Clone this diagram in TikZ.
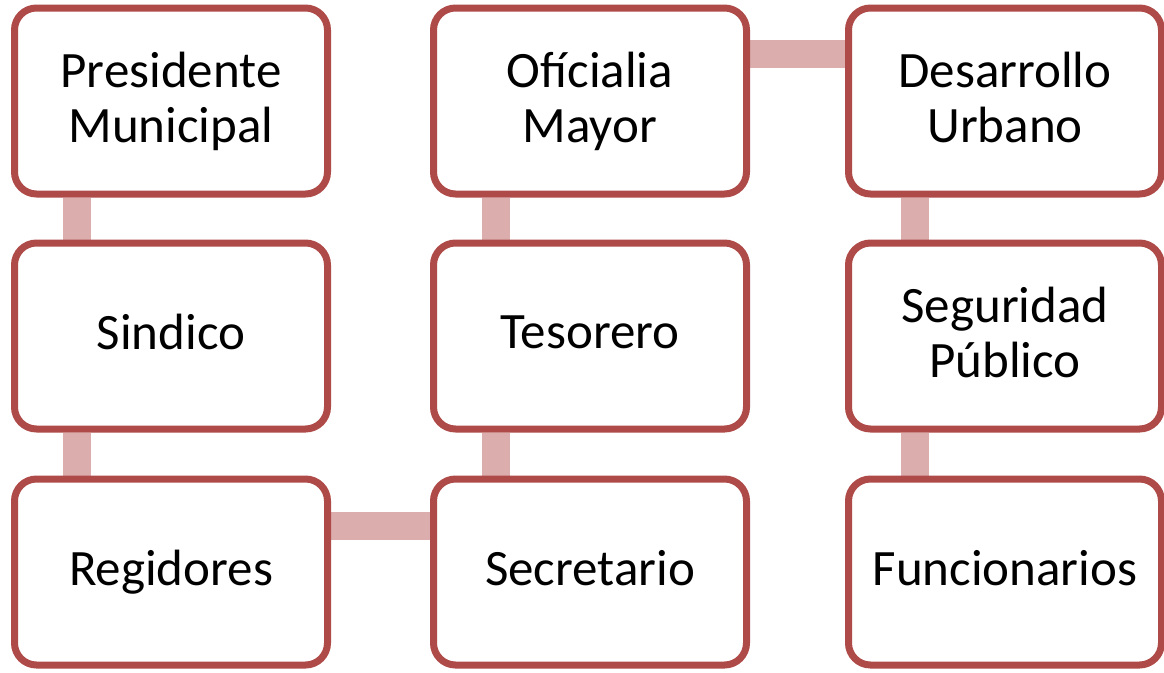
\documentclass[tikz,border=0pt]{standalone}
\usepackage{fontspec}
\setmainfont{Carlito}
\usetikzlibrary{backgrounds,shadows}
\usepackage{xcolor}

\definecolor{boxred}{HTML}{AE4A47}
\definecolor{linkpink}{HTML}{DBADAD}

\begin{document}
\begin{tikzpicture}[x=1pt,y=1pt,
  unit/.style={draw=boxred, line width=7pt, fill=white, rounded corners=22pt,
    minimum width=313pt, minimum height=186pt, align=center,
    font=\fontsize{51}{55}\selectfont,
    execute at begin node={\vphantom{Ap}}, execute at end node={\vphantom{Ap}},
    drop shadow={shadow xshift=1pt, shadow yshift=-2.5pt, opacity=0.35}},
  link/.style={draw=linkpink, line width=28pt}]

% Frame of the page
\useasboundingbox (0,0) rectangle (1164,-672);

% Column positions and row heights
\def\colA{171}
\def\colB{590}
\def\colC{1005}
\def\rowA{-101}
\def\rowB{-336}
\def\rowC{-572}

% First column
\node[unit] (pres) at (\colA,\rowA) {Presidente\\Municipal};
\node[unit] (sind) at (\colA,\rowB) {Sindico};
\node[unit] (regi) at (\colA,\rowC) {Regidores};

% Second column
\node[unit] (ofic) at (\colB,\rowA) {Ofícialia\\Mayor};
\node[unit] (teso) at (\colB,\rowB) {Tesorero};
\node[unit] (secr) at (\colB,\rowC) {Secretario};

% Third column
\node[unit] (desa) at (\colC,\rowA) {Desarrollo\\Urbano};
\node[unit] (segu) at (\colC,\rowB) {Seguridad\\Público};
\node[unit] (func) at (\colC,\rowC) {Funcionarios};

% Links, behind the boxes
\begin{scope}[on background layer]
\draw[link] ([xshift=-94pt]pres.south) -- ([xshift=-94pt]sind.north);
\draw[link] ([xshift=-94pt]sind.south) -- ([xshift=-94pt]regi.north);
\draw[link] ([yshift=46pt]regi.east) -- ([yshift=46pt]secr.west);
\draw[link] ([xshift=-94pt]secr.north) -- ([xshift=-94pt]teso.south);
\draw[link] ([xshift=-94pt]teso.north) -- ([xshift=-94pt]ofic.south);
\draw[link] ([yshift=47pt]ofic.east) -- ([yshift=47pt]desa.west);
\draw[link] ([xshift=-90pt]desa.south) -- ([xshift=-90pt]segu.north);
\draw[link] ([xshift=-90pt]segu.south) -- ([xshift=-90pt]func.north);
\end{scope}

\end{tikzpicture}
\end{document}
